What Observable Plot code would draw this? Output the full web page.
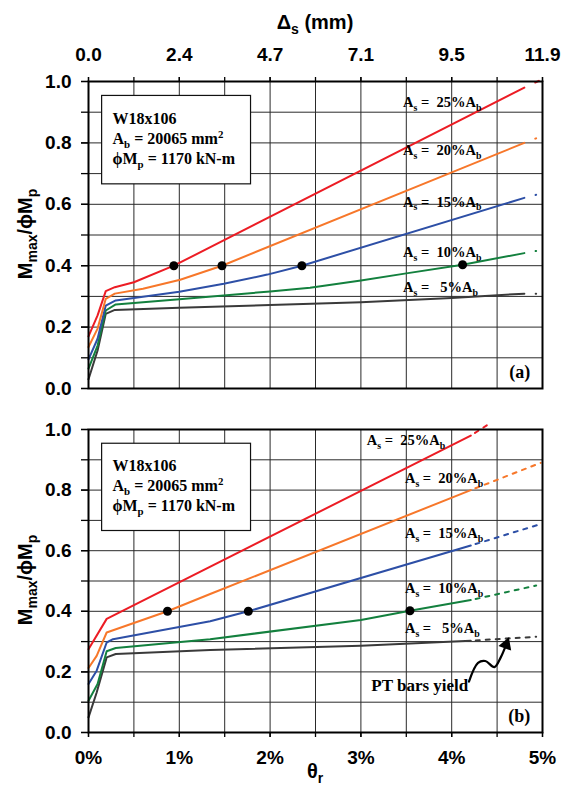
<!DOCTYPE html>
<html>
<head>
<meta charset="utf-8">
<script src="https://cdn.jsdelivr.net/npm/d3@7"></script>
<script src="https://cdn.jsdelivr.net/npm/@observablehq/plot@0.6"></script>
<style>
  html, body { margin: 0; padding: 0; background: #fff; }
  #chart svg { display: block; }
</style>
</head>
<body>
<div id="chart"></div>
<script>
const SANS = "'Liberation Sans', Arial, Helvetica, sans-serif";
const SERIF = "'Liberation Serif', 'Times New Roman', Times, serif";

// ---- series ----
const series = ["5%", "10%", "15%", "20%", "25%"];
const seriesColors = ["#3a3a3a", "#13803e", "#2d4fa6", "#f7772a", "#ec1c24"];

// ---- panel (a): theta_r (%) vs Mmax/phiMp, solid part ----
const a25x = [0, 0.10, 0.19, 0.29, 0.50, 0.94, 4.80];
const a25y = [0.170, 0.238, 0.317, 0.330, 0.346, 0.400, 0.980];
const a20x = [0, 0.10, 0.19, 0.29, 0.60, 1.01, 1.47, 4.80];
const a20y = [0.135, 0.195, 0.292, 0.309, 0.325, 0.354, 0.400, 0.800];
const a15x = [0, 0.10, 0.19, 0.30, 1.00, 1.49, 1.97, 2.35, 4.80];
const a15y = [0.095, 0.162, 0.270, 0.287, 0.315, 0.341, 0.371, 0.400, 0.621];
const a10x = [0, 0.10, 0.19, 0.30, 1.00, 2.00, 2.44, 3.00, 3.50, 4.12, 4.80];
const a10y = [0.065, 0.140, 0.254, 0.274, 0.291, 0.316, 0.328, 0.352, 0.375, 0.403, 0.441];
const a05x = [0, 0.10, 0.19, 0.29, 1.00, 2.00, 3.00, 4.00, 4.80];
const a05y = [0.030, 0.124, 0.243, 0.256, 0.263, 0.272, 0.281, 0.295, 0.309];
// panel (a): dashed tails
const a25dx = [4.87, 4.96]; const a25dy = [0.990, 1.002];
const a20dx = [4.87, 4.93]; const a20dy = [0.807, 0.815];
const a15dx = [4.87, 4.93]; const a15dy = [0.626, 0.631];
const a10dx = [4.87, 4.93]; const a10dy = [0.445, 0.448];
const a05dx = [4.87, 4.93]; const a05dy = [0.309, 0.309];
// panel (a): markers
const aDotX = [0.94, 1.47, 2.35, 4.12];
const aDotY = [0.40, 0.40, 0.40, 0.403];

// ---- panel (b) ----
const b25x = [0, 0.20, 4.21];
const b25y = [0.275, 0.375, 0.980];
const b20x = [0, 0.09, 0.20, 0.87, 1.34, 4.21];
const b20y = [0.213, 0.253, 0.330, 0.400, 0.457, 0.800];
const b15x = [0, 0.09, 0.20, 0.27, 1.34, 1.76, 4.21];
const b15y = [0.160, 0.204, 0.297, 0.308, 0.367, 0.400, 0.617];
const b10x = [0, 0.10, 0.20, 0.30, 1.34, 3.00, 3.54, 4.21];
const b10y = [0.105, 0.160, 0.268, 0.279, 0.308, 0.371, 0.402, 0.437];
const b05x = [0, 0.09, 0.20, 0.30, 1.34, 3.00, 4.21];
const b05y = [0.050, 0.132, 0.248, 0.259, 0.272, 0.286, 0.303];
// panel (b): dotted continuations
const b25dx = [4.21, 4.42]; const b25dy = [0.980, 1.020];
const b20dx = [4.21, 4.98]; const b20dy = [0.800, 0.890];
const b15dx = [4.21, 4.98]; const b15dy = [0.617, 0.688];
const b10dx = [4.21, 4.93]; const b10dy = [0.437, 0.485];
const b05dx = [4.21, 4.93]; const b05dy = [0.303, 0.316];
// panel (b): markers
const bDotX = [0.87, 1.76, 3.54];
const bDotY = [0.40, 0.40, 0.402];
// "PT bars yield" pointer path
const ptX = [4.19, 4.29, 4.37, 4.47, 4.54, 4.60];
const ptY = [0.168, 0.230, 0.236, 0.216, 0.248, 0.290];

// ---- ticks ----
const thetaTicks = [0, 1, 2, 3, 4, 5];
const thetaLabels = ["0%", "1%", "2%", "3%", "4%", "5%"];
const deltaLabels = ["0.0", "2.4", "4.7", "7.1", "9.5", "11.9"];
const thetaMinor = [0, 0.5, 1, 1.5, 2, 2.5, 3, 3.5, 4, 4.5, 5];
const mTicks = [0, 0.2, 0.4, 0.6, 0.8, 1.0];
const mLabels = ["0.0", "0.2", "0.4", "0.6", "0.8", "1.0"];
const mMinor = [0, 0.1, 0.2, 0.3, 0.4, 0.5, 0.6, 0.7, 0.8, 0.9, 1.0];

function toRows(list) {
  const out = [];
  for (const [s, xs, ys] of list) xs.forEach((x, i) => out.push({s, x, y: ys[i]}));
  return out;
}
const aSolid = toRows([["5%", a05x, a05y], ["10%", a10x, a10y], ["15%", a15x, a15y], ["20%", a20x, a20y], ["25%", a25x, a25y]]);
const aDash = toRows([["5%", a05dx, a05dy], ["10%", a10dx, a10dy], ["15%", a15dx, a15dy], ["20%", a20dx, a20dy], ["25%", a25dx, a25dy]]);
const bSolid = toRows([["5%", b05x, b05y], ["10%", b10x, b10y], ["15%", b15x, b15y], ["20%", b20x, b20y], ["25%", b25x, b25y]]);
const bDash = toRows([["5%", b05dx, b05dy], ["10%", b10dx, b10dy], ["15%", b15dx, b15dy], ["20%", b20dx, b20dy], ["25%", b25dx, b25dy]]);
const aDots = aDotX.map((x, i) => ({x, y: aDotY[i]}));
const bDots = bDotX.map((x, i) => ({x, y: bDotY[i]}));
const ptPath = ptX.map((x, i) => ({x, y: ptY[i]}));

// rich text helper (sub/superscripts)
function rich(g, x, y, parts, o) {
  const size = o.size;
  const t = g.append("text")
    .attr("transform", `translate(${x},${y})` + (o.rotate ? ` rotate(${o.rotate})` : ""))
    .attr("font-family", o.family).attr("font-size", size).attr("font-weight", "bold")
    .attr("text-anchor", o.anchor || "start").attr("fill", "#000")
    .style("white-space", "pre");
  let cur = 0;
  for (const p of parts) {
    const [str, kind] = Array.isArray(p) ? p : [p, ""];
    const off = kind === "sub" ? size * 0.25 : kind === "sup" ? -size * 0.38 : 0;
    const ts = t.append("tspan").text(str);
    if (off !== cur) ts.attr("dy", off - cur);
    cur = off;
    if (kind) ts.attr("font-size", size * (o.sub || 0.68));
  }
  return t;
}

function panel(cfg) {
  const marks = [
    Plot.gridX(thetaMinor, {stroke: "#2a2a2a", strokeOpacity: 1, strokeWidth: 1}),
    Plot.gridY(mMinor, {stroke: "#2a2a2a", strokeOpacity: 1, strokeWidth: 1}),
    Plot.rect([{}], {x1: 0.15, x2: 1.79, y1: 0.665, y2: 0.953, fill: "white", stroke: "#111", strokeWidth: 1.2}),
    Plot.line(cfg.solid, {x: "x", y: "y", z: "s", stroke: "s", strokeWidth: 2}),
    Plot.line(cfg.dash, {x: "x", y: "y", z: "s", stroke: "s", strokeWidth: 2, strokeDasharray: "4,6", strokeDashoffset: 5}),
    Plot.dot(cfg.dots, {x: "x", y: "y", r: 4.5, fill: "#000", stroke: "none"}),
    Plot.frame({stroke: "#000", strokeWidth: 2}),
    Plot.axisY(mMinor, {tickSize: 7, tickFormat: () => "", stroke: "#000", strokeWidth: 1.3, label: null}),
    Plot.axisY(mTicks, {tickSize: 7, tickPadding: 10, tickFormat: d => mLabels[mTicks.indexOf(d)],
      fontSize: 19, fontWeight: "bold", fill: "#000", stroke: "#000", strokeWidth: 1.3, label: null}),
    ...cfg.extraMarks
  ];
  return Plot.plot({
    width: 565, height: cfg.height,
    marginTop: cfg.mt, marginBottom: cfg.mb, marginLeft: 88, marginRight: 23,
    x: {domain: [0, 5]},
    y: {domain: [0, 1]},
    color: {domain: series, range: seriesColors},
    style: {fontFamily: SANS, background: "white", overflow: "visible"},
    marks
  });
}

const container = document.getElementById("chart");

// ---------- panel (a) ----------
const chartA = panel({
  height: 400, mt: 81, mb: 12,
  solid: aSolid, dash: aDash, dots: aDots,
  extraMarks: [
    Plot.axisX(thetaMinor, {anchor: "top", tickSize: 5, tickFormat: () => "", stroke: "#000", strokeWidth: 1.3, label: null}),
    Plot.axisX(thetaTicks, {anchor: "top", tickSize: 5, tickPadding: 16, tickFormat: d => deltaLabels[thetaTicks.indexOf(d)],
      fontSize: 19, fontWeight: "bold", fill: "#000", stroke: "#000", strokeWidth: 1.3, label: null})
  ]
});
container.appendChild(chartA);

// ---------- panel (b) ----------
const chartB = panel({
  height: 389, mt: 29, mb: 57,
  solid: bSolid, dash: bDash, dots: bDots,
  extraMarks: [
    Plot.line(ptPath, {x: "x", y: "y", curve: "catmull-rom", stroke: "#000", strokeWidth: 2.2}),
    Plot.dot([ptPath[ptPath.length - 1]], {x: "x", y: "y", symbol: "triangle", r: 5, rotate: 20, fill: "#000", stroke: "none"}),
    Plot.axisX(thetaMinor, {anchor: "bottom", tickSize: 5, tickFormat: () => "", stroke: "#000", strokeWidth: 1.3, label: null}),
    Plot.axisX(thetaTicks, {anchor: "bottom", tickSize: 5, tickPadding: 13, tickFormat: d => thetaLabels[thetaTicks.indexOf(d)],
      fontSize: 19, fontWeight: "bold", fill: "#000", stroke: "#000", strokeWidth: 1.3, label: null})
  ]
});
container.appendChild(chartB);

// ---------- annotations ----------
const boxLines = [
  ["W18x106"],
  ["A", ["b", "sub"], " = 20065 mm", ["2", "sup"]],
  ["\u03d5M", ["p", "sub"], " = 1170 kN-m"]
];
const boxLineY = [0.86, 0.795, 0.73];

function lbl(pct) {
  return ["A", ["s", "sub"], pct.length === 2 ? " =   " + pct + "A" : " =  " + pct + "A", ["b", "sub"]];
}
const aLabelPos = [["25%", 3.47, 0.914], ["20%", 3.47, 0.759], ["15%", 3.47, 0.590], ["10%", 3.47, 0.427], ["5%", 3.47, 0.313]];
const bLabelPos = [["25%", 3.07, 0.947], ["20%", 3.49, 0.822], ["15%", 3.49, 0.640], ["10%", 3.49, 0.458], ["5%", 3.49, 0.326]];

function annotate(chart, labelPos, tag, yTitleY) {
  const sx = chart.scale("x"), sy = chart.scale("y");
  const g = d3.select(chart).append("g");
  boxLines.forEach((parts, i) => rich(g, sx.apply(0.27), sy.apply(boxLineY[i]), parts, {size: 16, family: SERIF}));
  for (const [pct, x, y] of labelPos) rich(g, sx.apply(x), sy.apply(y), lbl(pct), {size: 14.5, family: SERIF, sub: 0.68});
  rich(g, sx.apply(4.87), sy.apply(0.033), [tag], {size: 18, family: SERIF, anchor: "end"});
  rich(g, 32, yTitleY, ["M", ["max", "sub"], "/\u03d5M", ["p", "sub"]], {size: 20, family: SANS, anchor: "middle", rotate: -90, sub: 0.7});
  return {g, sx, sy};
}

const A = annotate(chartA, aLabelPos, "(a)", 234);
rich(A.g, 315, 29, ["\u0394", ["s", "sub"], " (mm)"], {size: 20, family: SANS, anchor: "middle", sub: 0.7});

const B = annotate(chartB, bLabelPos, "(b)", 180);
rich(B.g, B.sx.apply(3.12), B.sy.apply(0.135), ["PT bars yield"], {size: 17, family: SERIF});
rich(B.g, 315, 378, ["\u03b8", ["r", "sub"]], {size: 20, family: SANS, anchor: "middle", sub: 0.7});
</script>
</body>
</html>
